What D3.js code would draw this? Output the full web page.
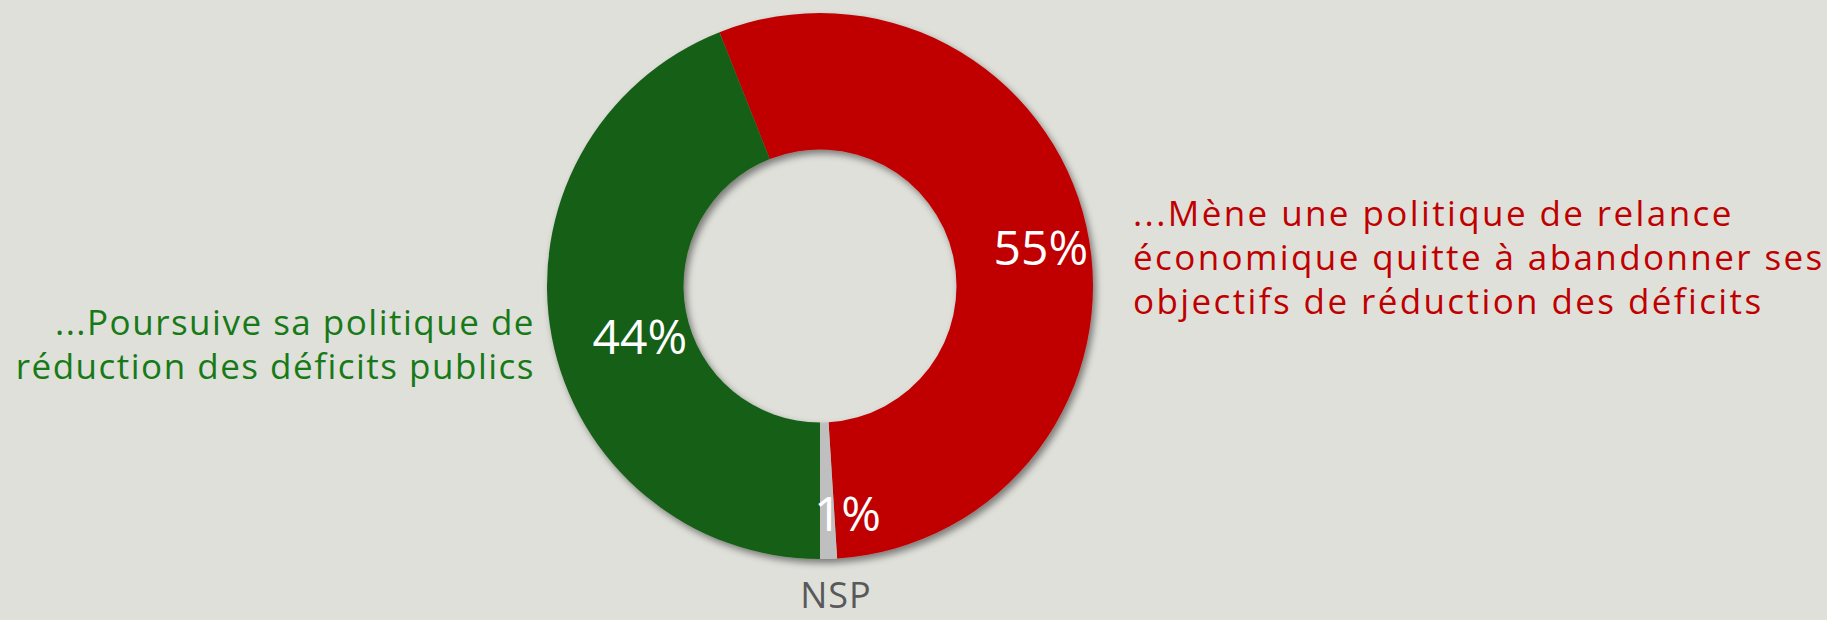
<!DOCTYPE html>
<html>
<head>
<meta charset="utf-8">
<script src="https://cdn.jsdelivr.net/npm/d3@7"></script>
<style>
  html, body { margin: 0; padding: 0; background: #dfe0da; }
  svg { display: block; }
</style>
</head>
<body>
<div id="chart"></div>
<script>
// Data
const categories = ["...Mène une politique de relance économique quitte à abandonner ses objectifs de réduction des déficits", "NSP", "...Poursuive sa politique de réduction des déficits publics"];
const values = [55, 1, 44];
const valueLabels = ["55%", "1%", "44%"];
const colors = ["#c00000", "#bfbfbf", "#185e18"];

const width = 1827, height = 620;
const cx = 820, cy = 286;
const outerR = 273, innerR = 136.5;
const startDeg = -21.6;

const svg = d3.select("#chart")
  .append("svg")
  .attr("width", width)
  .attr("height", height);

svg.append("rect")
  .attr("width", width)
  .attr("height", height)
  .attr("fill", "#dfe0da");

// drop shadow like the office chart
const defs = svg.append("defs");
const f = defs.append("filter")
  .attr("id", "shadow")
  .attr("x", "-10%").attr("y", "-10%")
  .attr("width", "120%").attr("height", "120%");
f.append("feDropShadow")
  .attr("dx", 3).attr("dy", 4)
  .attr("stdDeviation", 3.5)
  .attr("flood-color", "#000")
  .attr("flood-opacity", 0.45);

const pie = d3.pie()
  .sort(null)
  .value(d => d)
  .startAngle(startDeg * Math.PI / 180)
  .endAngle((startDeg + 360) * Math.PI / 180);

const arc = d3.arc().innerRadius(innerR).outerRadius(outerR);
const arcs = pie(values);

const g = svg.append("g")
  .attr("transform", `translate(${cx},${cy})`);

g.append("g")
  .attr("filter", "url(#shadow)")
  .selectAll("path")
  .data(arcs)
  .enter()
  .append("path")
  .attr("d", arc)
  .attr("fill", (d, i) => colors[i]);

// value labels, near the middle of the ring
const midR = (innerR + outerR) / 2;
g.selectAll(".val")
  .data(arcs)
  .enter()
  .append("text")
  .attr("class", "val")
  .attr("x", d => 21 + midR * Math.sin((d.startAngle + d.endAngle) / 2))
  .attr("y", d => 8 - 1.07 * midR * Math.cos((d.startAngle + d.endAngle) / 2))
  .attr("text-anchor", "middle")
  .attr("dominant-baseline", "central")
  .attr("font-family", "'Open Sans', sans-serif")
  .attr("font-size", 48)
  .attr("fill", "#fff")
  .text((d, i) => valueLabels[i]);

// category labels
const catFont = "'Century Gothic', 'Open Sans', sans-serif";

const rightLines = ["...Mène une politique de relance", "économique quitte à abandonner ses", "objectifs de réduction des déficits"];
const leftLines = ["...Poursuive sa politique de", "réduction des déficits publics"];

svg.selectAll(".rlab")
  .data(rightLines)
  .enter()
  .append("text")
  .attr("class", "rlab")
  .attr("x", 1133)
  .attr("y", (d, i) => 226 + i * 44)
  .attr("font-family", catFont)
  .attr("font-size", 35)
  .attr("letter-spacing", 2.4)
  .attr("fill", colors[0])
  .text(d => d);

svg.selectAll(".llab")
  .data(leftLines)
  .enter()
  .append("text")
  .attr("class", "llab")
  .attr("x", 535)
  .attr("y", (d, i) => 335 + i * 44)
  .attr("text-anchor", "end")
  .attr("font-family", catFont)
  .attr("font-size", 35)
  .attr("letter-spacing", 1.5)
  .attr("fill", "#177a17")
  .text(d => d);

svg.append("text")
  .attr("x", 836)
  .attr("y", 608)
  .attr("text-anchor", "middle")
  .attr("font-family", catFont)
  .attr("font-size", 36)
  .attr("letter-spacing", 1)
  .attr("fill", "#595959")
  .text(categories[1]);
</script>
</body>
</html>
